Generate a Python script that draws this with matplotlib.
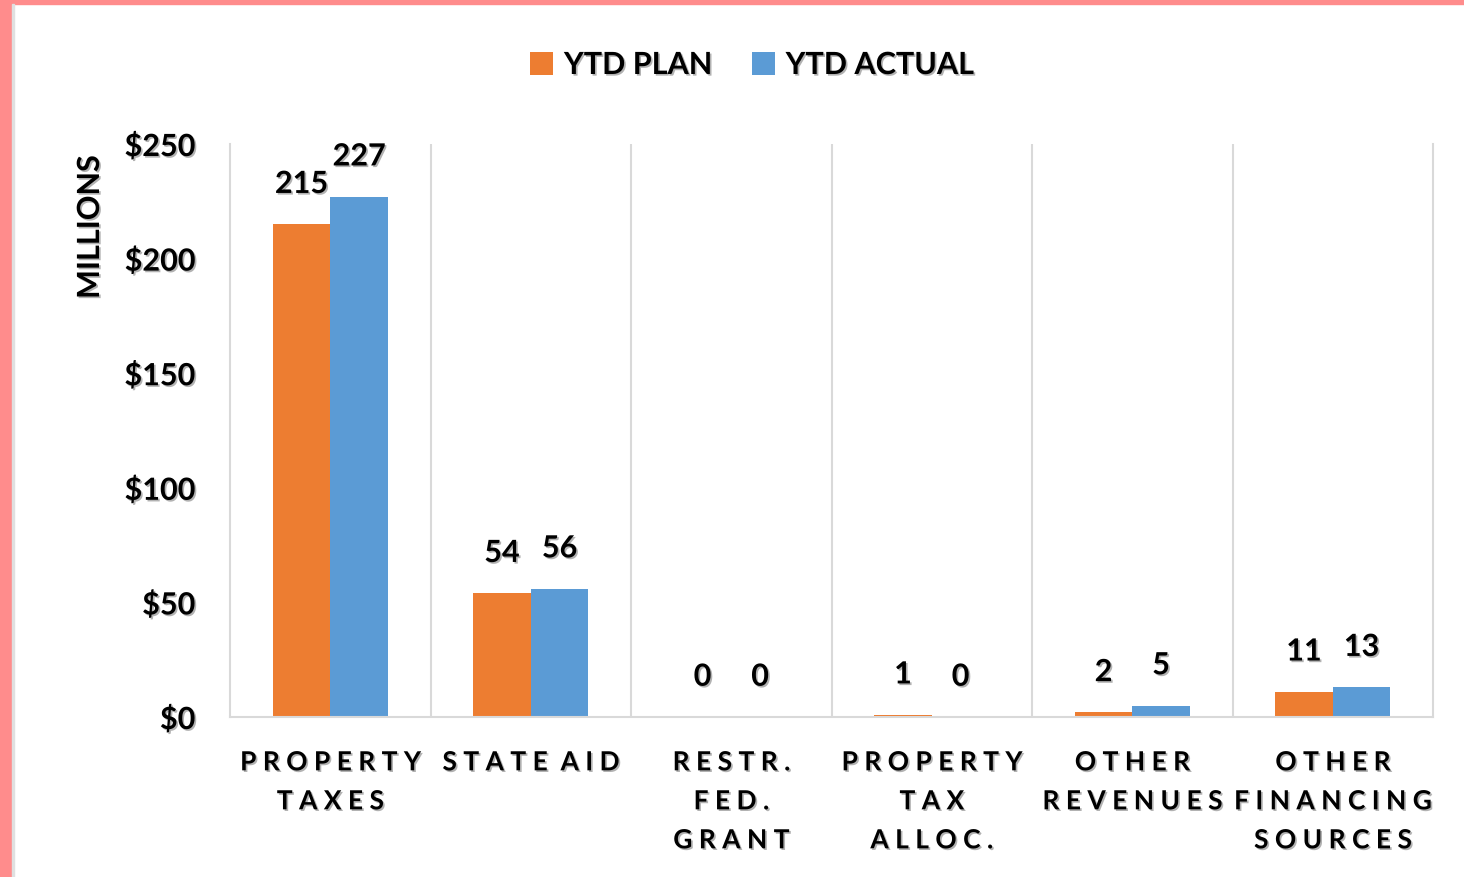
import numpy as np
import matplotlib
matplotlib.use('Agg')
import matplotlib.pyplot as plt
import matplotlib.patheffects as pe
from matplotlib.patches import Rectangle

categories = ['PROPERTY\nTAXES', 'STATE AID', 'RESTR.\nFED.\nGRANT',
              'PROPERTY\nTAX\nALLOC.', 'OTHER\nREVENUES', 'OTHER\nFINANCING\nSOURCES']
ytd_plan = [215, 54, 0, 1, 2, 11]
ytd_actual = [227, 56, 0, 0, 5, 13]
series_names = ['YTD PLAN', 'YTD ACTUAL']
colors = ['#ED7D31', '#5B9BD5']
yticks = [0, 50, 100, 150, 200, 250]

plt.rcParams['font.family'] = ['Lato', 'DejaVu Sans']
shadow = [pe.withSimplePatchShadow(offset=(1.2, -1.2), shadow_rgbFace='#555555', alpha=0.45)]

def spaced(s):
    # fake letter spacing like the office chart
    lines = []
    for line in s.split('\n'):
        lines.append('  '.join(' '.join(w) for w in line.split(' ')))
    return '\n'.join(lines)

fig = plt.figure(figsize=(14.64, 8.78), dpi=100)
fig.patch.set_facecolor('white')
# pink frame on top and left
fig.patches.append(Rectangle((0, 1 - 5/878), 1, 5/878, transform=fig.transFigure, color='#FF8C8C', zorder=0))
fig.patches.append(Rectangle((0, 0), 12/1464, 1, transform=fig.transFigure, color='#FF8C8C', zorder=0))
fig.patches.append(Rectangle((12/1464, 0), 2/1464, 1 - 5/878, transform=fig.transFigure, color='#E0E0E0', zorder=0))

ax = fig.add_axes([230/1464, 1 - 718/878, 1203/1464, 573/878])
x = np.arange(len(categories))
w = 0.287
b1 = ax.bar(x - w/2, ytd_plan, w, color=colors[0], label=series_names[0], zorder=2)
b2 = ax.bar(x + w/2, ytd_actual, w, color=colors[1], label=series_names[1], zorder=2)

for bars, vals in [(b1, ytd_plan), (b2, ytd_actual)]:
    for r, v in zip(bars, vals):
        t = ax.annotate(str(v), (r.get_x() + r.get_width()/2, r.get_height()),
                        xytext=(0, 29), textcoords='offset points',
                        ha='center', va='center', fontsize=22, fontweight='bold')
        t.set_path_effects(shadow)

ax.set_xlim(-0.5, len(categories) - 0.5)
ax.set_ylim(0, 250)
ax.set_yticks(yticks)
ax.set_yticklabels(['$%d' % v for v in yticks], fontsize=22, fontweight='bold')
ax.set_xticks(x)
ax.set_xticklabels([spaced(c) for c in categories], fontsize=19, fontweight='bold', linespacing=1.75)
ax.tick_params(length=0)
ax.tick_params(axis='y', pad=25)
ax.tick_params(axis='x', pad=24)
for lab in ax.get_xticklabels() + ax.get_yticklabels():
    lab.set_path_effects(shadow)

for xv in np.arange(0.5, len(categories) - 0.5, 1):
    ax.axvline(xv, color='#D9D9D9', lw=1.5, zorder=1)
for s in ['left', 'right', 'bottom']:
    ax.spines[s].set_color('#D9D9D9')
    ax.spines[s].set_linewidth(1.5)
ax.spines['top'].set_visible(False)

yl = ax.set_ylabel('MILLIONS', fontsize=22, fontweight='bold')
yl.set_path_effects(shadow)
ax.yaxis.set_label_coords(-126/1203, 1 - (228 - 145)/573)

leg = fig.legend(loc='center', bbox_to_anchor=(752/1464, 1 - 66/878), ncol=2, frameon=False,
                 handlelength=0.75, handleheight=0.75, handletextpad=0.35, columnspacing=1.3,
                 prop={'size': 22, 'weight': 'bold'})
for t in leg.get_texts():
    t.set_path_effects(shadow)

fig.savefig('out.png', dpi=100, facecolor=fig.get_facecolor())
